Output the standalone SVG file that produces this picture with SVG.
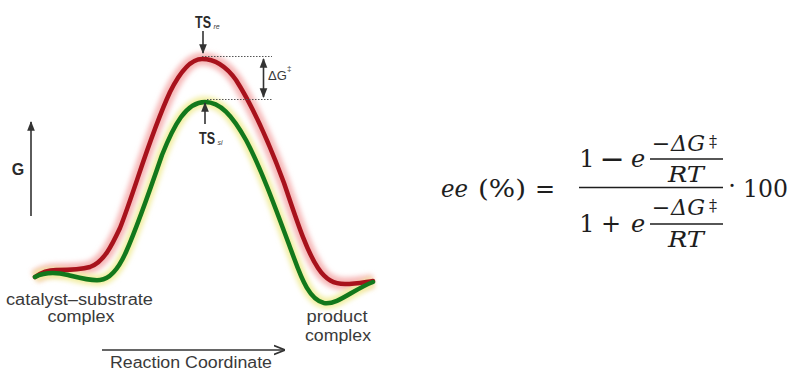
<svg xmlns="http://www.w3.org/2000/svg" width="794" height="369" viewBox="0 0 794 369">
<style>
.lbl{font-family:"Liberation Sans",Arial,sans-serif;fill:#3a3a3a}
.b{font-weight:bold;fill:#2a2a2a}
.m{font-family:"DejaVu Serif","Liberation Serif",serif;fill:#1e1e1e}
.i{font-style:italic}
.ax{stroke:#333;stroke-width:1.6;fill:none}
.dot{stroke:#555;stroke-width:1;stroke-dasharray:1.5 1.5;fill:none}
.bar{stroke:#1e1e1e;stroke-width:1.6}
</style>
<defs>
<filter id="blur" x="-10%" y="-10%" width="120%" height="120%"><feGaussianBlur stdDeviation="2.5"/></filter>
<marker id="ah" viewBox="0 0 10 10" refX="9" refY="5" markerWidth="6" markerHeight="6" orient="auto-start-reverse"><path d="M0,1 L10,5 L0,9 Z" fill="#333"/></marker>
<marker id="av" viewBox="0 0 10 10" refX="9" refY="5" markerWidth="7" markerHeight="7" orient="auto"><path d="M0,1 L10,5 L0,9" fill="none" stroke="#333" stroke-width="1.6"/></marker>
</defs>
<rect width="794" height="369" fill="#fff"/>
<g id="curves">
<path id="glow-red" d="M35,277 C42,272 48,270 56,270 C68,270 80,270 90,267 C104,262 112,245 120,228 C135,190 150,135 170,92 C182,68 192,59 202,59 C214,59 226,66 236,80 C252,105 268,140 284,183 C296,218 306,250 318,268 C326,280 334,284 345,284 C356,284 365,282 373,281" fill="none" stroke="#f6b8b8" stroke-width="13" filter="url(#blur)"/>
<path id="glow-green" d="M35,277 C45,272 55,272 68,275 C80,278 90,281 100,280 C110,279 118,270 126,252 C138,225 150,190 162,155 C174,125 186,102 205,102 C220,102 232,115 246,140 C262,170 278,215 294,258 C302,280 310,300 324,303 C338,305 352,290 373,282" fill="none" stroke="#f2eea0" stroke-width="11" filter="url(#blur)"/>
<path id="red" d="M35,277 C42,272 48,270 56,270 C68,270 80,270 90,267 C104,262 112,245 120,228 C135,190 150,135 170,92 C182,68 192,59 202,59 C214,59 226,66 236,80 C252,105 268,140 284,183 C296,218 306,250 318,268 C326,280 334,284 345,284 C356,284 365,282 373,281" fill="none" stroke="#a8121c" stroke-width="4.5" stroke-linecap="round"/>
<path id="green" d="M35,277 C45,272 55,272 68,275 C80,278 90,281 100,280 C110,279 118,270 126,252 C138,225 150,190 162,155 C174,125 186,102 205,102 C220,102 232,115 246,140 C262,170 278,215 294,258 C302,280 310,300 324,303 C338,305 352,290 373,282" fill="none" stroke="#12781c" stroke-width="4.5" stroke-linecap="round"/>
</g>
<g id="connectors">
<line class="ax" x1="31" y1="216" x2="31" y2="122" marker-end="url(#ah)"/>
<line class="ax" x1="102" y1="350" x2="284" y2="350" marker-end="url(#av)"/>
<line class="ax" x1="203" y1="31" x2="203" y2="53" marker-end="url(#ah)"/>
<line class="ax" x1="205" y1="124" x2="205" y2="103" marker-end="url(#ah)"/>
<line class="ax" x1="263.5" y1="59" x2="263.5" y2="97" marker-start="url(#ah)" marker-end="url(#ah)"/>
<line class="dot" x1="202" y1="56.5" x2="272" y2="56.5"/>
<line class="dot" x1="207" y1="99.5" x2="272" y2="99.5"/>
</g>
<g id="labels">
<text class="lbl b" x="18" y="175" font-size="16" text-anchor="middle">G</text>
<text class="lbl b" x="195" y="28" font-size="17" textLength="16" lengthAdjust="spacingAndGlyphs">TS</text>
<text class="lbl i" x="213.5" y="29" font-size="7">re</text>
<text class="lbl b" x="199" y="144" font-size="17" textLength="16" lengthAdjust="spacingAndGlyphs">TS</text>
<text class="lbl i" x="217.5" y="145" font-size="7">si</text>
<text class="lbl" x="268" y="80" font-size="13">ΔG</text>
<text class="lbl" x="287" y="71" font-size="8">‡</text>
<text class="lbl" x="6" y="305" font-size="16" textLength="147" lengthAdjust="spacingAndGlyphs">catalyst–substrate</text>
<text class="lbl" x="81" y="322" font-size="16" textLength="67" lengthAdjust="spacingAndGlyphs" text-anchor="middle">complex</text>
<text class="lbl" x="337" y="322" font-size="16" textLength="61" lengthAdjust="spacingAndGlyphs" text-anchor="middle">product</text>
<text class="lbl" x="338" y="341" font-size="16" textLength="66" lengthAdjust="spacingAndGlyphs" text-anchor="middle">complex</text>
<text class="lbl" x="110" y="368" font-size="16" textLength="162" lengthAdjust="spacingAndGlyphs">Reaction Coordinate</text>
</g>
<g id="formula">
<text class="m i" x="441" y="197" font-size="24" textLength="27" lengthAdjust="spacingAndGlyphs">ee</text>
<text class="m" x="478" y="197" font-size="24" textLength="48" lengthAdjust="spacingAndGlyphs">(%)</text>
<text class="m" x="545" y="197" font-size="24" text-anchor="middle">=</text>
<text class="m" x="587" y="167" font-size="24" text-anchor="middle">1</text>
<text class="m" x="612" y="169" font-size="30" text-anchor="middle">−</text>
<text class="m i" x="631" y="167" font-size="24">e</text>
<text class="m" x="661" y="151" font-size="22" text-anchor="middle">−</text>
<text class="m i" x="671" y="151" font-size="22" textLength="34" lengthAdjust="spacingAndGlyphs">ΔG</text>
<text class="m" x="709" y="147" font-size="16">‡</text>
<line class="bar" x1="650" y1="159" x2="723" y2="159"/>
<text class="m i" x="668" y="182" font-size="22" textLength="36" lengthAdjust="spacingAndGlyphs">RT</text>
<line class="bar" x1="579" y1="187.5" x2="723" y2="187.5"/>
<text class="m" x="587" y="232" font-size="24" text-anchor="middle">1</text>
<text class="m" x="611" y="232" font-size="24" text-anchor="middle">+</text>
<text class="m i" x="631" y="232" font-size="24">e</text>
<text class="m" x="661" y="215" font-size="22" text-anchor="middle">−</text>
<text class="m i" x="671" y="215" font-size="22" textLength="34" lengthAdjust="spacingAndGlyphs">ΔG</text>
<text class="m" x="709" y="211" font-size="16">‡</text>
<line class="bar" x1="650" y1="224" x2="723" y2="224"/>
<text class="m i" x="668" y="247" font-size="22" textLength="36" lengthAdjust="spacingAndGlyphs">RT</text>
<text class="m" x="732" y="194" font-size="24" text-anchor="middle">·</text>
<text class="m" x="743" y="197" font-size="24" textLength="45" lengthAdjust="spacingAndGlyphs">100</text>
</g>
</svg>
